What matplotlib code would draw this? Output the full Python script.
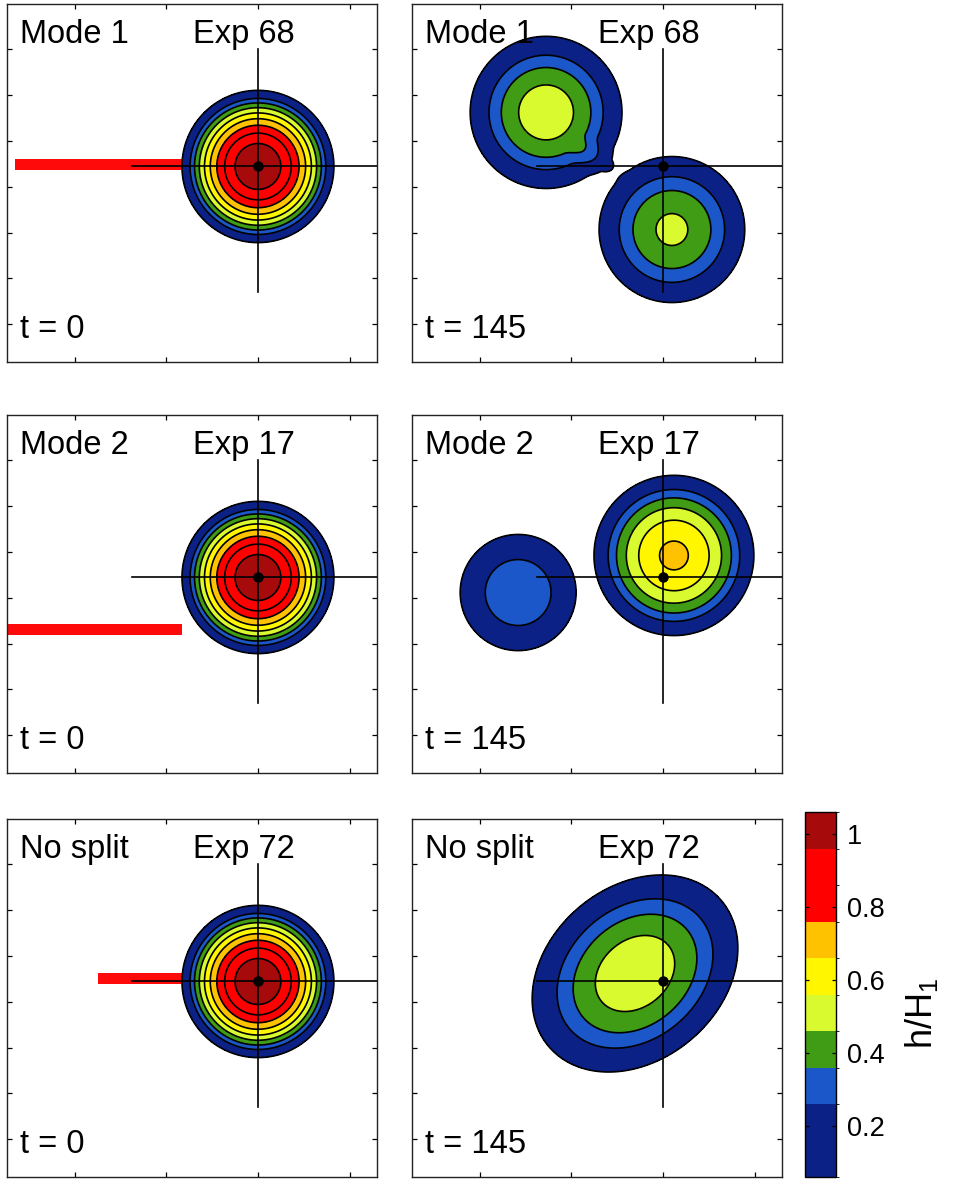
import numpy as np
import matplotlib
matplotlib.use("Agg")
import matplotlib.pyplot as plt
from matplotlib.colors import ListedColormap, BoundaryNorm
from matplotlib.cm import ScalarMappable

plt.rcParams["font.family"] = ["Liberation Sans", "DejaVu Sans"]
plt.rcParams["mathtext.fontset"] = "custom"
plt.rcParams["mathtext.rm"] = "Liberation Sans"
plt.rcParams["mathtext.default"] = "regular"

# Row titles and the two snapshot times
modes = ["Mode 1", "Mode 2", "No split"]
experiments = ["Exp 68", "Exp 17", "Exp 72"]
times = [0, 145]

# Contour levels of h/H1 and the fill colour of each band
levels = [0.06, 0.26, 0.36, 0.46, 0.56, 0.66, 0.76, 0.86, 0.96, 1.06]
band_colors = ["#0b2185", "#1b57c8", "#3f9c14", "#d9fa2e", "#fff600",
               "#ffc200", "#ff0000", "#ff0000", "#a70a0a"]
cbar_ticks = [0.2, 0.4, 0.6, 0.8, 1.0]
cbar_ticklabels = ["0.2", "0.4", "0.6", "0.8", "1"]

# Lens-shaped eddies:
# (x0, y0, peak h/H1, semi-axis a, semi-axis b, tilt deg, profile power)
initial_eddy = [(0.0, 0.0, 1.05, 0.854, 0.854, 0.0, 1)]
eddies_t145 = [
    [(-1.276, 0.589, 0.52, 0.881, 0.881, 0.0, 1),
     (0.098, -0.687, 0.48, 0.850, 0.850, 0.0, 1),
     (-0.720, 0.080, 0.10, 0.420, 0.230, -30.0, 2)],
    [(-1.581, -0.164, 0.355, 0.694, 0.694, 0.0, 1),
     (0.120, 0.240, 0.68, 0.914, 0.914, 0.0, 1)],
    [(-0.305, 0.087, 0.53, 1.309, 1.003, 40.0, 1)],
]

# Red wall segments in the t = 0 panels: start x, end x, y
wall_x0 = [-2.65, -2.74, -1.745]
wall_x1 = [-0.83, -0.83, -0.83]
wall_y = [0.02, -0.57, 0.03]

W, H = 955, 1179
fig = plt.figure(figsize=(W / 100, H / 100), dpi=100)

xlim = (-2.74, 1.30)
ylim = (-2.13, 1.77)
X, Y = np.meshgrid(np.linspace(*xlim, 700), np.linspace(*ylim, 700))


def thickness(eddies):
    h = np.zeros_like(X)
    for x0, y0, peak, a, b, tilt, power in eddies:
        t = np.radians(tilt)
        dx, dy = X - x0, Y - y0
        u = dx * np.cos(t) + dy * np.sin(t)
        v = -dx * np.sin(t) + dy * np.cos(t)
        h += peak * np.clip(1 - (u / a) ** 2 - (v / b) ** 2, 0, None) ** power
    return h


def panel_axes(x_px, top_px, w_px=370, h_px=358):
    return fig.add_axes([x_px / W, 1 - (top_px + h_px) / H, w_px / W, h_px / H])


col_left = [7, 412]
row_top = [4, 415, 819]
cmap = ListedColormap(band_colors)
norm = BoundaryNorm(levels, cmap.N)

for r in range(3):
    for c in range(2):
        ax = panel_axes(col_left[c], row_top[r])
        eddies = initial_eddy if c == 0 else eddies_t145[r]
        h = thickness(eddies)
        if c == 0:
            ax.fill_between([wall_x0[r], wall_x1[r]], wall_y[r] - 0.06,
                            wall_y[r] + 0.06, color="#ff0a0a", lw=0, zorder=1)
        ax.contourf(X, Y, h, levels=levels, cmap=cmap, norm=norm, zorder=2)
        ax.contour(X, Y, h, levels=levels[:-1], colors="k", linewidths=1.2,
                   zorder=3)
        ax.plot([0, 0], [-1.37, 1.28], color="k", lw=1.2, zorder=4)
        ax.plot([-1.38, xlim[1]], [0, 0], color="k", lw=1.2, zorder=4)
        ax.plot(0, 0, "o", color="k", ms=6.5, zorder=5)

        ax.set_xlim(*xlim)
        ax.set_ylim(*ylim)
        ax.set_xticks([-2, -1, 0, 1])
        ax.set_yticks(np.arange(-1.72, 1.5, 0.5))
        ax.tick_params(direction="in", length=3.5, width=0.9, top=True,
                       right=True, labelbottom=False, labelleft=False)
        for s in ax.spines.values():
            s.set_linewidth(1.0)
            s.set_color("#222222")

        ax.text(13 / 370, 1 - 39 / 358, modes[r], transform=ax.transAxes,
                fontsize=23.5, va="baseline", ha="left", zorder=6)
        ax.text(186 / 370, 1 - 39 / 358, experiments[r], transform=ax.transAxes,
                fontsize=23.5, va="baseline", ha="left", zorder=6)
        ax.text(13 / 370, 1 - 334 / 358, f"t = {times[c]}", transform=ax.transAxes,
                fontsize=23.5, va="baseline", ha="left", zorder=6)

# Colour bar
cax = fig.add_axes([805 / W, 1 - 1177 / H, 31 / W, 365 / H])
cb = fig.colorbar(ScalarMappable(norm=norm, cmap=cmap), cax=cax,
                  spacing="proportional", ticks=cbar_ticks)
cb.ax.set_yticklabels(cbar_ticklabels)
cb.ax.tick_params(direction="in", length=3, width=0.9, left=True, right=True,
                  labelsize=19.5, pad=8)
cb.outline.set_linewidth(1.0)
fig.text(921 / W, 1 - 1013 / H, r"h/H$_1$", rotation=90, fontsize=26,
         ha="center", va="center")

fig.savefig("out.png", dpi=100)
